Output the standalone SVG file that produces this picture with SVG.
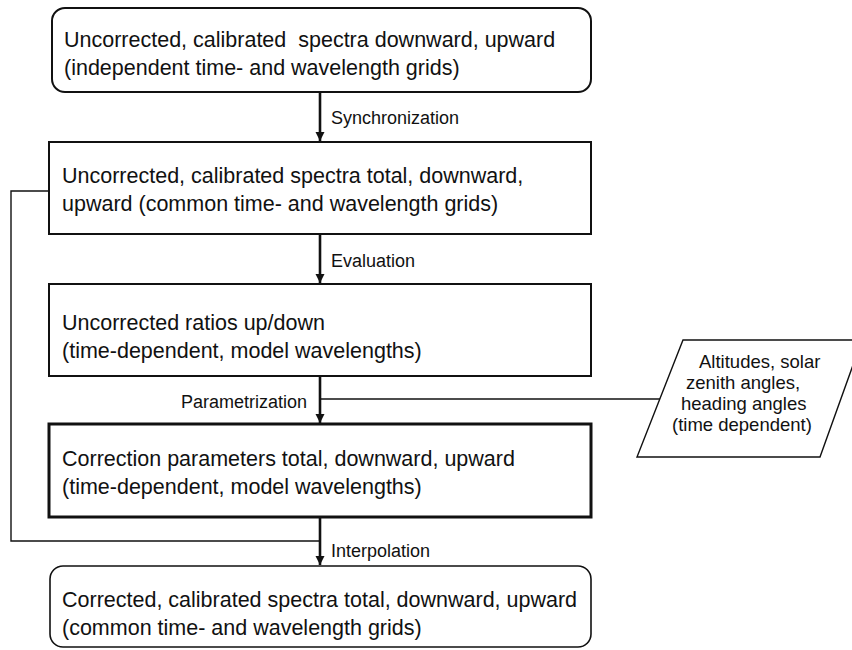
<svg xmlns="http://www.w3.org/2000/svg" width="852" height="650" viewBox="0 0 852 650">
<defs>
<style>
.box{fill:#fff;stroke:#111;stroke-width:2}
.t{font-family:"Liberation Sans",Arial,sans-serif;font-size:21.5px;fill:#111}
.lbl{font-family:"Liberation Sans",Arial,sans-serif;font-size:18px;fill:#111}
.pt{font-family:"Liberation Sans",Arial,sans-serif;font-size:18.5px;fill:#111}
.arr{fill:none;stroke:#111;stroke-width:2.6}
.thin{fill:none;stroke:#111;stroke-width:1.4}
</style>
<marker id="ah" viewBox="0 0 10 10" refX="10" refY="5" markerWidth="3.6" markerHeight="3.6" orient="auto" markerUnits="strokeWidth">
<path d="M0,0 L10,5 L0,10 Z" fill="#111"/>
</marker>
</defs>
<rect width="852" height="650" fill="#fff"/>
<g id="connectors">
<path class="thin" d="M49,191 H11 V541 H320"/>
<path class="thin" d="M320,399 H660"/>
<path class="arr" d="M320,92 V141" marker-end="url(#ah)"/>
<path class="arr" d="M320,234 V283" marker-end="url(#ah)"/>
<path class="arr" d="M320,376 V423" marker-end="url(#ah)"/>
<path class="arr" d="M320,517 V565" marker-end="url(#ah)"/>
<text class="lbl" x="331" y="124">Synchronization</text>
<text class="lbl" x="331" y="267">Evaluation</text>
<text class="lbl" x="307" y="408" text-anchor="end">Parametrization</text>
<text class="lbl" x="331" y="557">Interpolation</text>
</g>
<g id="n1">
<rect class="box" x="52" y="8" width="539" height="84" rx="13"/>
<text class="t" x="64" y="47" xml:space="preserve">Uncorrected, calibrated  spectra downward, upward</text>
<text class="t" x="64" y="75">(independent time- and wavelength grids)</text>
</g>
<g id="n2">
<rect class="box" x="49" y="142" width="542" height="92"/>
<text class="t" x="62" y="183">Uncorrected, calibrated spectra total, downward,</text>
<text class="t" x="62" y="211">upward (common time- and wavelength grids)</text>
</g>
<g id="n3">
<rect class="box" x="49" y="284" width="542" height="92"/>
<text class="t" x="62" y="330">Uncorrected ratios up/down</text>
<text class="t" x="62" y="358">(time-dependent, model wavelengths)</text>
</g>
<g id="n4">
<rect class="box" x="49" y="424" width="542" height="93" style="stroke-width:3"/>
<text class="t" x="62" y="466">Correction parameters total, downward, upward</text>
<text class="t" x="62" y="494">(time-dependent, model wavelengths)</text>
</g>
<g id="n5">
<rect class="box" x="50" y="566" width="541" height="81" rx="13" style="stroke-width:1.6"/>
<text class="t" x="62" y="607">Corrected, calibrated spectra total, downward, upward</text>
<text class="t" x="62" y="635">(common time- and wavelength grids)</text>
</g>
<g id="n6">
<polygon points="683,340 862,340 820,457 637,457" style="fill:#fff;stroke:#111;stroke-width:1.4"/>
<text class="pt" x="699" y="368">Altitudes, solar</text>
<text class="pt" x="686" y="389">zenith angles,</text>
<text class="pt" x="681" y="410">heading angles</text>
<text class="pt" x="672" y="431">(time dependent)</text>
</g>
</svg>
